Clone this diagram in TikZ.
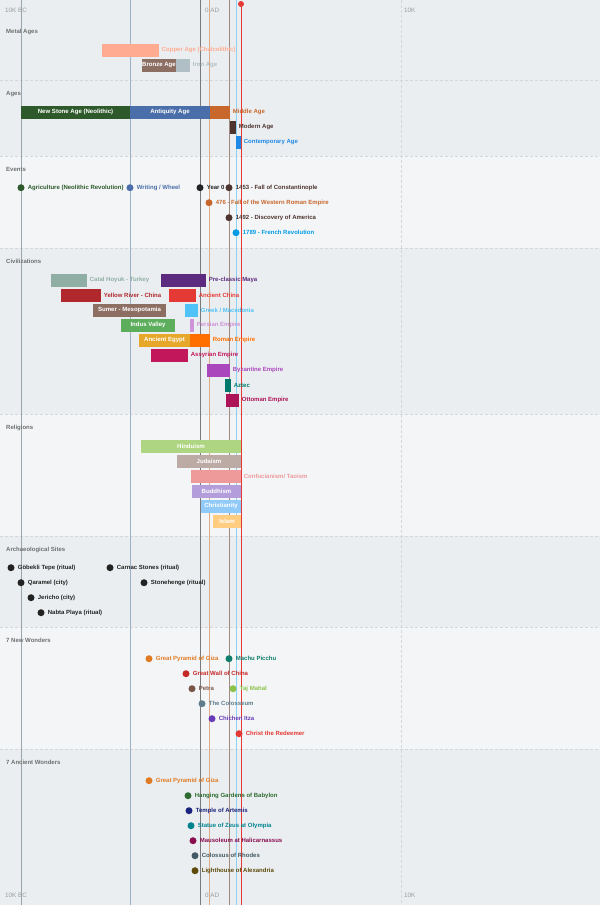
\documentclass[tikz,border=0pt]{standalone}
\usepackage{fontspec}
\setmainfont{Liberation Sans}
\definecolor{bgdark}{HTML}{EBEEF0}
\definecolor{bglight}{HTML}{F3F5F7}
\definecolor{sepc}{HTML}{D3D7DA}
\definecolor{axc}{HTML}{999999}
\definecolor{titc}{HTML}{6F6F6F}
\definecolor{vlA}{HTML}{9AA6AD}
\definecolor{vlB}{HTML}{9DB0C4}
\definecolor{vlC}{HTML}{7A7A7A}
\definecolor{vlD}{HTML}{DDAA88}
\definecolor{vlE}{HTML}{A08A80}
\definecolor{vlF}{HTML}{8CD2F2}
\definecolor{vlG}{HTML}{E53935}
\definecolor{copper}{HTML}{FFAB91}
\definecolor{bronze}{HTML}{8D6E63}
\definecolor{iron}{HTML}{B0BEC5}
\definecolor{neol}{HTML}{2E5A2B}
\definecolor{antiq}{HTML}{4A6EA9}
\definecolor{middle}{HTML}{C8672C}
\definecolor{modern}{HTML}{4E342E}
\definecolor{contemp}{HTML}{1E88E5}
\definecolor{yearz}{HTML}{222222}
\definecolor{frrev}{HTML}{039BE5}
\definecolor{catal}{HTML}{8FAFA4}
\definecolor{maya}{HTML}{5C2A7E}
\definecolor{yellowr}{HTML}{B0282C}
\definecolor{achina}{HTML}{E53935}
\definecolor{sumer}{HTML}{8D6E63}
\definecolor{greek}{HTML}{4FC3F7}
\definecolor{indus}{HTML}{5CAD5C}
\definecolor{persian}{HTML}{CE93D8}
\definecolor{egypt}{HTML}{E6A72A}
\definecolor{roman}{HTML}{FF6F00}
\definecolor{assyr}{HTML}{C2185B}
\definecolor{byzant}{HTML}{AB47BC}
\definecolor{aztec}{HTML}{00796B}
\definecolor{ottoman}{HTML}{AD1457}
\definecolor{hindu}{HTML}{AED581}
\definecolor{judai}{HTML}{BCAAA4}
\definecolor{confu}{HTML}{EF9A9A}
\definecolor{buddh}{HTML}{B39DDB}
\definecolor{christ}{HTML}{90CAF9}
\definecolor{islam}{HTML}{FFCC80}
\definecolor{sitec}{HTML}{222222}
\definecolor{pyr}{HTML}{E07B24}
\definecolor{machu}{HTML}{0D7D6B}
\definecolor{gwall}{HTML}{C62828}
\definecolor{petra}{HTML}{795548}
\definecolor{taj}{HTML}{8BC34A}
\definecolor{colos}{HTML}{607D8B}
\definecolor{chich}{HTML}{673AB7}
\definecolor{redeem}{HTML}{E53935}
\definecolor{hang}{HTML}{2E6B32}
\definecolor{artem}{HTML}{1A237E}
\definecolor{zeus}{HTML}{00838F}
\definecolor{mauso}{HTML}{880E4F}
\definecolor{rhodes}{HTML}{455A64}
\definecolor{lighth}{HTML}{5D4A0B}
\tikzset{
  barbox/.style={rectangle, inner sep=0pt, minimum height=13pt, text=white, font=\bfseries\fontsize{6.05}{7}\selectfont},
  lbl/.style={inner sep=0pt, font=\bfseries\fontsize{6}{7}\selectfont},
  dotnode/.style={circle, inner sep=0pt, minimum size=7pt},
  sectitle/.style={anchor=west, inner sep=0pt, text=titc, font=\bfseries\fontsize{6}{7}\selectfont},
  axlbl/.style={anchor=west, inner sep=0pt, text=axc, font=\fontsize{6.3}{7}\selectfont},
  sepline/.style={sepc, line width=0.6pt, dash pattern=on 3pt off 2pt},
  vline/.style={line width=0.8pt}
}
% name, x1, x2, y, colour, text inside
\newcommand\tlbarin[6]{\node[barbox, fill=#5, minimum width={(#3-#2)*1pt}] (#1) at ({(#2+#3)/2},#4) {#6};}
% name, x1, x2, y, colour, text outside
\newcommand\tlbarout[6]{\node[barbox, fill=#5, minimum width={(#3-#2)*1pt}] (#1) at ({(#2+#3)/2},#4) {};
  \node[lbl, text=#5, anchor=west] (#1-l) at ([xshift=2.5pt]#1.east) {#6};}
% name, x, y, dot colour, text colour, text
\newcommand\tldot[6]{\node[dotnode, fill=#4] (#1) at (#2,#3) {};
  \node[lbl, text=#5, anchor=west] (#1-l) at ([xshift=3pt]#1.east) {#6};}
\begin{document}
\begin{tikzpicture}[x=1pt, y=-1pt]
\useasboundingbox (0,0) rectangle (600,905);
% bands
\fill[bgdark] (0,0) rectangle (600,156);
\fill[bglight] (0,156) rectangle (600,248);
\fill[bgdark] (0,248) rectangle (600,414);
\fill[bglight] (0,414) rectangle (600,536);
\fill[bgdark] (0,536) rectangle (600,627);
\fill[bglight] (0,627) rectangle (600,749);
\fill[bgdark] (0,749) rectangle (600,905);
\foreach \yy in {80,156,248,414,536,627,749} \draw[sepline] (0,\yy) -- (600,\yy);
% vertical lines
\coordinate (t1) at (21,0); \coordinate (b1) at (21,905);
\coordinate (t2) at (130,0); \coordinate (b2) at (130,905);
\coordinate (t3) at (200,0); \coordinate (b3) at (200,905);
\coordinate (t4) at (209,0); \coordinate (b4) at (209,905);
\coordinate (t5) at (229,0); \coordinate (b5) at (229,905);
\coordinate (t6) at (236,0); \coordinate (b6) at (236,905);
\coordinate (t7) at (241,4); \coordinate (b7) at (241,905);
\coordinate (t8) at (401,0); \coordinate (b8) at (401,905);
\draw[vline, vlA] (t1) -- (b1);
\draw[vline, vlB] (t2) -- (b2);
\draw[vline, vlC] (t3) -- (b3);
\draw[vline, vlD] (t4) -- (b4);
\draw[vline, vlE] (t5) -- (b5);
\draw[vline, vlF] (t6) -- (b6);
\draw[vline, vlG] (t7) -- (b7);
\draw[sepc, line width=0.6pt, dash pattern=on 3pt off 2pt] (t8) -- (b8);
\node[circle, fill=vlG, inner sep=0pt, minimum size=6pt] (now) at (241,4) {};
\begin{scope}[yshift=-0.7pt]
% axis labels
\node[axlbl] (ax1) at (5,9.5) {10K BC};
\node[axlbl] (ax2) at (205,9.5) {0 AD};
\node[axlbl] (ax3) at (404,9.5) {10K};
\node[axlbl] (ax4) at (5,895) {10K BC};
\node[axlbl] (ax5) at (205,895) {0 AD};
\node[axlbl] (ax6) at (404,895) {10K};
% section titles
\node[sectitle] (s1) at (6,31) {Metal Ages};
\node[sectitle] (s2) at (6,93) {Ages};
\node[sectitle] (s3) at (6,169) {Events};
\node[sectitle] (s4) at (6,261) {Civilizations};
\node[sectitle] (s5) at (6,427) {Religions};
\node[sectitle] (s6) at (6,549) {Archaeological Sites};
\node[sectitle] (s7) at (6,640) {7 New Wonders};
\node[sectitle] (s8) at (6,762) {7 Ancient Wonders};
% metal ages
\tlbarout{copper}{102}{159}{49.5}{copper}{Copper Age (Chalcolithic)}
\tlbarin{bronze}{142}{176}{64.5}{bronze}{Bronze Age}
\tlbarout{iron}{176}{190}{64.5}{iron}{Iron Age}
% ages
\tlbarin{neol}{21}{130}{111.5}{neol}{New Stone Age (Neolithic)}
\tlbarin{antiq}{130}{210}{111.5}{antiq}{Antiquity Age}
\tlbarout{middle}{210}{230}{111.5}{middle}{Middle Age}
\tlbarout{modern}{230}{236}{126.5}{modern}{Modern Age}
\tlbarout{contemp}{236}{241}{141.5}{contemp}{Contemporary Age}
% events
\tldot{agri}{21}{187}{neol}{neol}{Agriculture (Neolithic Revolution)}
\tldot{writ}{130}{187}{antiq}{antiq}{Writing / Wheel}
\tldot{yz}{200}{187}{yearz}{yearz}{Year 0}
\tldot{e1453}{229}{187}{modern}{modern}{1453 - Fall of Constantinople}
\tldot{e476}{209}{202}{middle}{middle}{476 - Fall of the Western Roman Empire}
\tldot{e1492}{229}{217}{modern}{modern}{1492 - Discovery of America}
\tldot{e1789}{236}{232}{frrev}{frrev}{1789 - French Revolution}
% civilizations
\tlbarout{catal}{51}{87}{279.5}{catal}{Catal Hoyuk - Turkey}
\tlbarout{maya}{161}{206}{279.5}{maya}{Pre-classic Maya}
\tlbarout{yellowr}{61}{101}{294.5}{yellowr}{Yellow River - China}
\tlbarout{achina}{169}{196}{294.5}{achina}{Ancient China}
\tlbarin{sumer}{93}{166}{309.5}{sumer}{Sumer - Mesopotamia}
\tlbarout{greek}{185}{198}{309.5}{greek}{Greek / Macedonia}
\tlbarin{indus}{121}{175}{324.5}{indus}{Indus Valley}
\tlbarout{persian}{190}{194}{324.5}{persian}{Persian Empire}
\tlbarin{egypt}{139}{190}{339.5}{egypt}{Ancient Egypt}
\tlbarout{roman}{190}{210}{339.5}{roman}{Roman Empire}
\tlbarout{assyr}{151}{188}{354.5}{assyr}{Assyrian Empire}
\tlbarout{byzant}{207}{230}{369.5}{byzant}{Byzantine Empire}
\tlbarout{aztec}{225}{231}{384.5}{aztec}{Aztec}
\tlbarout{ottoman}{226}{239}{399.5}{ottoman}{Ottoman Empire}
% religions
\tlbarin{hindu}{141}{241}{445.5}{hindu}{Hinduism}
\tlbarin{judai}{177}{241}{460.5}{judai}{Judaism}
\tlbarout{confu}{191}{241}{475.5}{confu}{Confucianism/ Taoism}
\tlbarin{buddh}{192}{241}{490.5}{buddh}{Buddhism}
\tlbarin{christ}{201}{241}{505.5}{christ}{Christianity}
\tlbarin{islam}{213}{241}{520.5}{islam}{Islam}
% archaeological sites
\tldot{gobekli}{11}{567}{sitec}{sitec}{Göbekli Tepe (ritual)}
\tldot{carnac}{110}{567}{sitec}{sitec}{Carnac Stones (ritual)}
\tldot{qaramel}{21}{582}{sitec}{sitec}{Qaramel (city)}
\tldot{stonehenge}{144}{582}{sitec}{sitec}{Stonehenge (ritual)}
\tldot{jericho}{31}{597}{sitec}{sitec}{Jericho (city)}
\tldot{nabta}{41}{612}{sitec}{sitec}{Nabta Playa (ritual)}
% 7 new wonders
\tldot{npyr}{149}{658}{pyr}{pyr}{Great Pyramid of Giza}
\tldot{machu}{229}{658}{machu}{machu}{Machu Picchu}
\tldot{gwall}{186}{673}{gwall}{gwall}{Great Wall of China}
\tldot{petra}{192}{688}{petra}{petra}{Petra}
\tldot{taj}{233}{688}{taj}{taj}{Taj Mahal}
\tldot{colos}{202}{703}{colos}{colos}{The Colosseum}
\tldot{chich}{212}{718}{chich}{chich}{Chichen Itza}
\tldot{redeem}{239}{733}{redeem}{redeem}{Christ the Redeemer}
% 7 ancient wonders
\tldot{apyr}{149}{780}{pyr}{pyr}{Great Pyramid of Giza}
\tldot{hang}{188}{795}{hang}{hang}{Hanging Gardens of Babylon}
\tldot{artem}{189}{810}{artem}{artem}{Temple of Artemis}
\tldot{zeus}{191}{825}{zeus}{zeus}{Statue of Zeus at Olympia}
\tldot{mauso}{193}{840}{mauso}{mauso}{Mausoleum at Halicarnassus}
\tldot{rhodes}{195}{855}{rhodes}{rhodes}{Colossus of Rhodes}
\tldot{lighth}{195}{870}{lighth}{lighth}{Lighthouse of Alexandria}
\end{scope}
\end{tikzpicture}
\end{document}
